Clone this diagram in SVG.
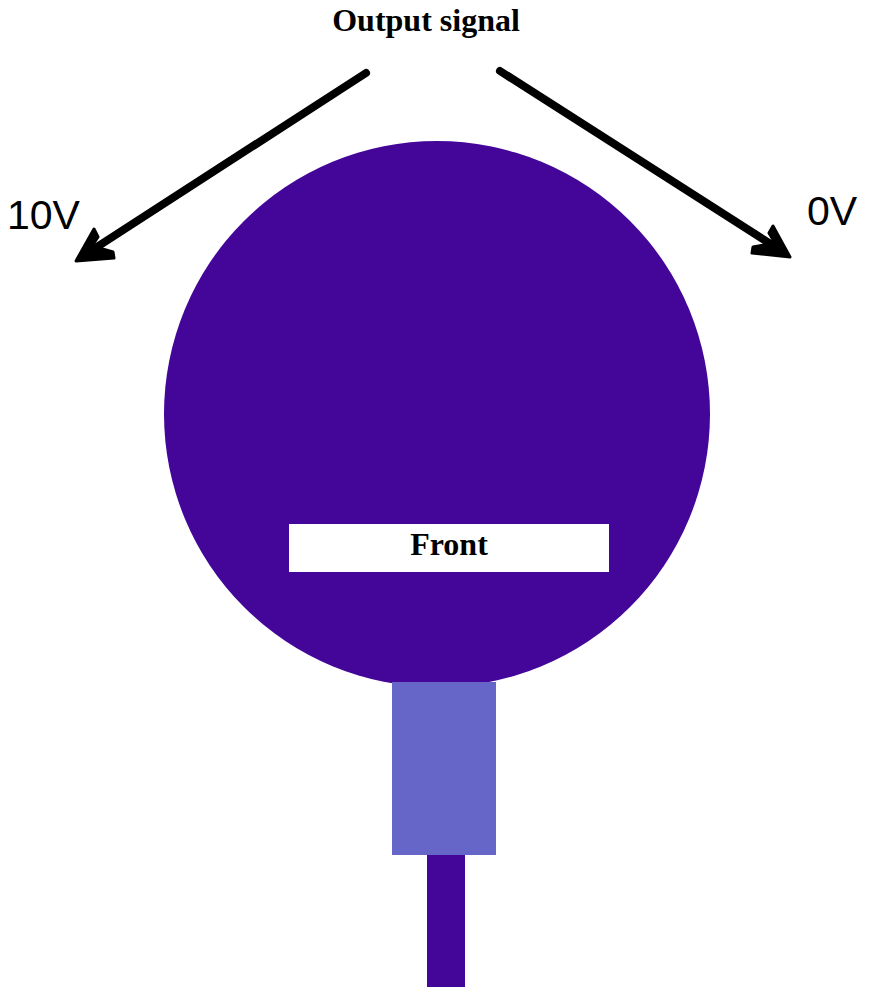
<svg xmlns="http://www.w3.org/2000/svg" width="869" height="987" viewBox="0 0 869 987">
<style>
.title{font-family:"Liberation Serif",serif;font-weight:bold;font-size:32px;fill:#000}
.volt{font-family:"Liberation Sans",sans-serif;font-size:41px;fill:#000}
.conn{stroke:#000;stroke-width:8;stroke-linecap:round;fill:none}
.head{fill:#000;stroke:#000;stroke-width:3;stroke-linejoin:round}
</style>
<rect width="869" height="987" fill="#fff"/>
<g id="sensor">
<circle cx="437" cy="414" r="273" fill="#440699"/>
<rect x="427" y="854" width="38" height="133" fill="#440699"/>
<rect x="392" y="682" width="104" height="173" fill="#6666c8"/>
</g>
<g id="front">
<rect x="289" y="524" width="320" height="48" fill="#fff"/>
<text x="449" y="555" text-anchor="middle" class="title">Front</text>
</g>
<g id="title"><text x="426" y="31" text-anchor="middle" class="title">Output signal</text></g>
<g id="label10"><text x="7" y="229" class="volt">10V</text></g>
<g id="label0"><text x="807" y="225" class="volt">0V</text></g>
<g id="connectors">
<line class="conn" x1="366" y1="73" x2="86" y2="254"/>
<path class="head" d="M76,261 L94,229 L98,237 L92,246 L113,252 L114,258 Z"/>
<line class="conn" x1="500" y1="71" x2="780" y2="250"/>
<path class="head" d="M790,257 L773,226 L769,233 L775,243 L753,247 L752,253 Z"/>
</g>
</svg>
